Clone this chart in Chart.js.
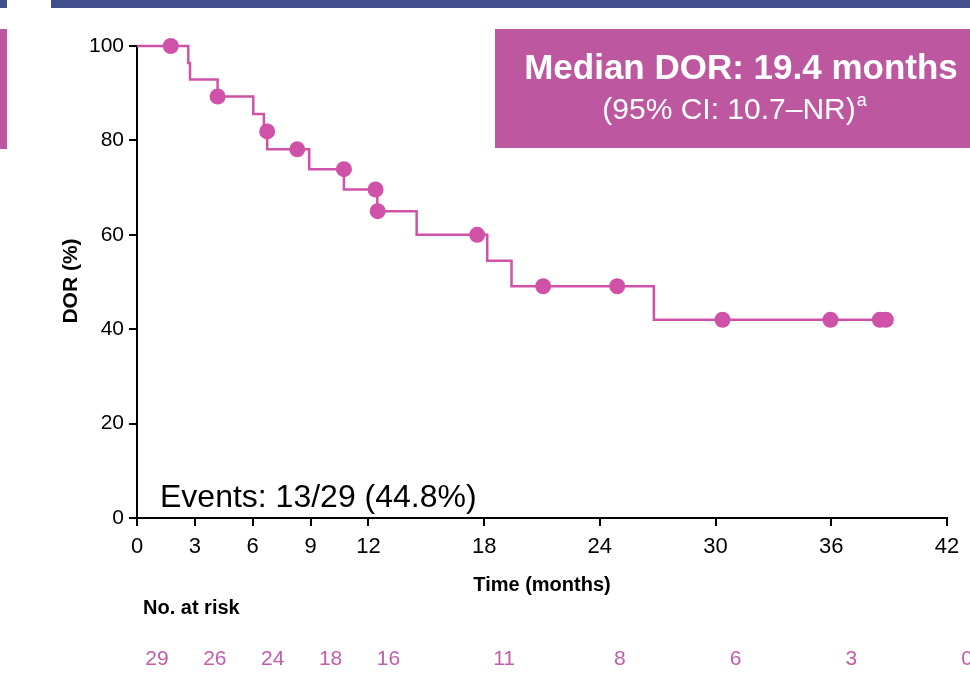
<!DOCTYPE html>
<html>
<head>
<meta charset="utf-8">
<title>Duration of response</title>
<script src="https://cdn.jsdelivr.net/npm/chart.js@4.4.1/dist/chart.umd.min.js"></script>
<style>
  html, body { margin: 0; background: #fff; }
  canvas { display: block; }
</style>
</head>
<body>
<canvas id="dor-chart" width="970" height="681"></canvas>
<script>
// Kaplan-Meier steps: time (months) and DOR (%) after each event
const stepTimes = [0, 2.66, 2.75, 4.18, 6.03, 6.58, 6.75, 8.93, 10.73, 12.46, 14.5, 18.16, 19.42, 26.8, 38.83];
const stepValues = [100, 96.4, 92.9, 89.3, 85.6, 81.9, 78.1, 73.9, 69.6, 65.0, 60.0, 54.5, 49.1, 42.0, 42.0];

// censored patients
const censorTimes = [1.75, 4.18, 6.75, 8.31, 10.73, 12.37, 12.48, 17.64, 21.06, 24.9, 30.36, 35.96, 38.52, 38.83];
const censorValues = [100, 89.3, 81.9, 78.1, 73.9, 69.6, 65.0, 60.0, 49.1, 49.1, 42.0, 42.0, 42.0, 42.0];

// x axis ticks and number at risk below them
const xTicks = [0, 3, 6, 9, 12, 18, 24, 30, 36, 42];
const atRisk = [29, 26, 24, 18, 16, 11, 8, 6, 3, 0];
const yTicks = [0, 20, 40, 60, 80, 100];

const FONT = "'Liberation Sans', Arial, sans-serif";
const PINK = "#d052a8";
const BOX = "#bc57a0";

const toPoints = (xs, ys) => xs.map((x, i) => ({ x: x, y: ys[i] }));

// headers, median box, labels and the at-risk row
const annotations = {
    id: "annotations",
    beforeDraw(chart) {
        const ctx = chart.ctx;
        ctx.save();
        ctx.fillStyle = "#fff";
        ctx.fillRect(0, 0, chart.width, chart.height);
        ctx.fillStyle = "#414f8c";
        ctx.fillRect(0, 0, 7, 8);
        ctx.fillRect(51, 0, chart.width - 51, 8);
        ctx.fillStyle = BOX;
        ctx.fillRect(0, 29, 7, 120);
        ctx.restore();
    },
    afterDraw(chart) {
        const { ctx, chartArea } = chart;
        const x = chart.scales.x;
        ctx.save();

        // median box
        ctx.fillStyle = BOX;
        ctx.fillRect(495, 29, chart.width - 495, 119);
        ctx.fillStyle = "#fff";
        ctx.textAlign = "center";
        ctx.textBaseline = "alphabetic";
        ctx.font = "bold 35px " + FONT;
        ctx.fillText("Median DOR: 19.4 months", 741, 79);
        ctx.font = "30px " + FONT;
        const ci = "(95% CI: 10.7\u2013NR)";
        const w1 = ctx.measureText(ci).width;
        ctx.font = "18px " + FONT;
        const w2 = ctx.measureText("a").width;
        const start = 734 - (w1 + w2) / 2;
        ctx.textAlign = "left";
        ctx.font = "30px " + FONT;
        ctx.fillText(ci, start, 119);
        ctx.font = "18px " + FONT;
        ctx.fillText("a", start + w1 + 1, 106);

        // events note
        ctx.fillStyle = "#000";
        ctx.font = "32px " + FONT;
        ctx.fillText("Events: 13/29 (44.8%)", 160, 507);

        // axis titles
        ctx.textAlign = "center";
        ctx.textBaseline = "middle";
        ctx.font = "bold 20px " + FONT;
        ctx.fillText("Time (months)", (chartArea.left + chartArea.right) / 2, 585);
        ctx.save();
        ctx.translate(71, 281);
        ctx.rotate(-Math.PI / 2);
        ctx.font = "bold 21px " + FONT;
        ctx.fillText("DOR (%)", 0, 0);
        ctx.restore();

        // number at risk
        ctx.textAlign = "left";
        ctx.textBaseline = "alphabetic";
        ctx.font = "bold 20px " + FONT;
        ctx.fillText("No. at risk", 143, 614);
        ctx.textAlign = "center";
        ctx.fillStyle = "#c45caa";
        ctx.font = "21px " + FONT;
        xTicks.forEach((t, i) => {
            ctx.fillText(String(atRisk[i]), x.getPixelForValue(t) + 20, 665);
        });
        ctx.restore();
    }
};

new Chart(document.getElementById("dor-chart"), {
    type: "scatter",
    data: {
        datasets: [
            {
                type: "line",
                data: toPoints(stepTimes, stepValues),
                stepped: true,
                borderColor: PINK,
                borderWidth: 2.5,
                pointRadius: 0,
                fill: false,
                clip: false
            },
            {
                data: toPoints(censorTimes, censorValues),
                backgroundColor: PINK,
                borderWidth: 0,
                pointRadius: 8,
                clip: false
            }
        ]
    },
    options: {
        responsive: false,
        animation: false,
        events: [],
        layout: { padding: { top: 46, right: 23, left: 0, bottom: 0 } },
        plugins: { legend: { display: false }, tooltip: { enabled: false } },
        scales: {
            x: {
                type: "linear",
                min: 0,
                max: 42,
                afterBuildTicks: (s) => { s.ticks = xTicks.map((v) => ({ value: v })); },
                afterFit: (s) => { s.height = 163; },
                grid: { drawOnChartArea: false, tickLength: 8, lineWidth: 2, tickWidth: 2, tickColor: "#000" },
                border: { color: "#000", width: 2 },
                ticks: { color: "#000", font: { family: FONT, size: 22 }, padding: 8, maxRotation: 0, autoSkip: false }
            },
            y: {
                min: 0,
                max: 100,
                afterBuildTicks: (s) => { s.ticks = yTicks.map((v) => ({ value: v })); },
                afterFit: (s) => { s.width = 137; },
                grid: { drawOnChartArea: false, tickLength: 8, lineWidth: 2, tickWidth: 2, tickColor: "#000" },
                border: { color: "#000", width: 2 },
                ticks: { color: "#000", font: { family: FONT, size: 21 }, padding: 5 }
            }
        }
    },
    plugins: [annotations]
});
</script>
</body>
</html>
